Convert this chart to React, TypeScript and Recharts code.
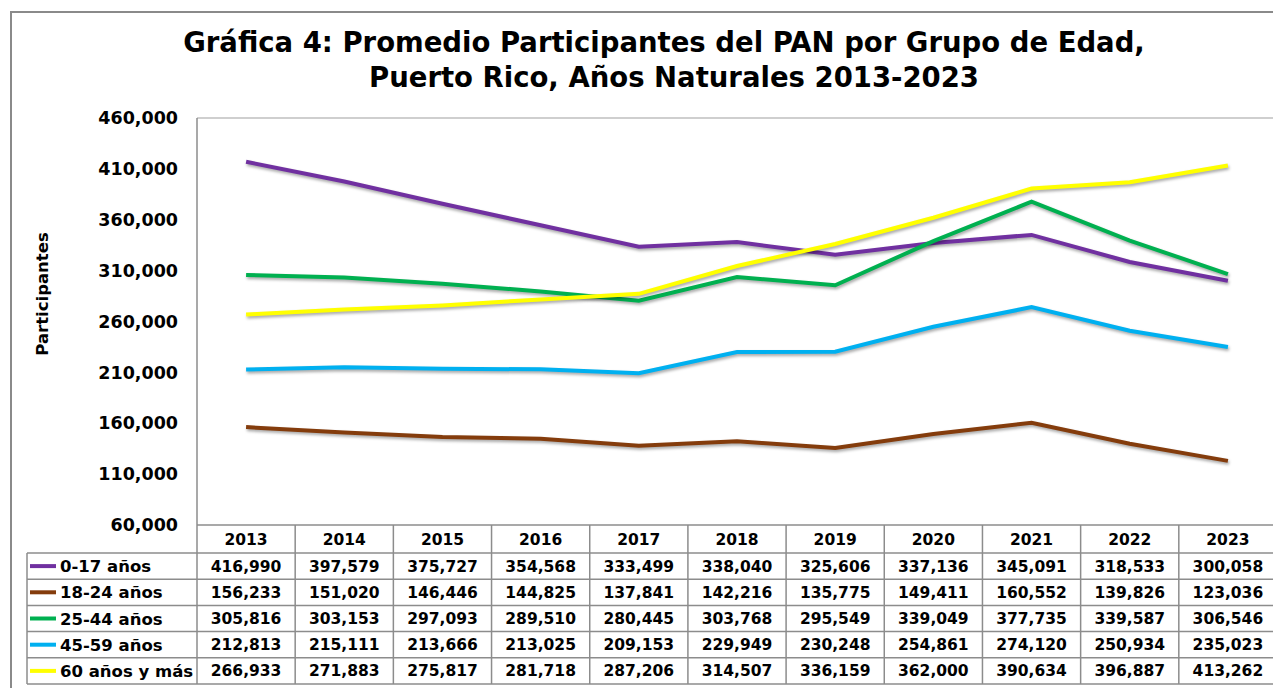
import React from 'react';
import { LineChart, Line, XAxis, YAxis } from 'recharts';

const years = ['2013', '2014', '2015', '2016', '2017', '2018', '2019', '2020', '2021', '2022', '2023'];
const age0_17 = [416990, 397579, 375727, 354568, 333499, 338040, 325606, 337136, 345091, 318533, 300058];
const age18_24 = [156233, 151020, 146446, 144825, 137841, 142216, 135775, 149411, 160552, 139826, 123036];
const age25_44 = [305816, 303153, 297093, 289510, 280445, 303768, 295549, 339049, 377735, 339587, 306546];
const age45_59 = [212813, 215111, 213666, 213025, 209153, 229949, 230248, 254861, 274120, 250934, 235023];
const age60plus = [266933, 271883, 275817, 281718, 287206, 314507, 336159, 362000, 390634, 396887, 413262];
const yTicks = [60000, 110000, 160000, 210000, 260000, 310000, 360000, 410000, 460000];

const seriesDefs = [
  { key: 'a', name: '0-17 años', values: age0_17, color: '#7030A0' },
  { key: 'b', name: '18-24 años', values: age18_24, color: '#843C0C' },
  { key: 'c', name: '25-44 años', values: age25_44, color: '#00B050' },
  { key: 'd', name: '45-59 años', values: age45_59, color: '#00B0F0' },
  { key: 'e', name: '60 años y más', values: age60plus, color: '#FFFF00' },
];

const data = years.map((y, i) => {
  const row: any = { year: y };
  seriesDefs.forEach((s) => (row[s.key] = s.values[i]));
  return row;
});

const FONT = '"DejaVu Sans", sans-serif';
const CHART_W = 1290;
const CHART_H = 688;
const PLOT_L = 197;
const PLOT_T = 118;
const PLOT_B = 525;
const PLOT_R = 1277;
const COL_W = (PLOT_R - PLOT_L) / years.length;
const ROW_H = 26.2;
const HEADER_T = PLOT_B;
const ROWS_T = PLOT_B + 28;
const TABLE_L = 27;
const GRID = '#8c8c8c';

const fmt = (v: number) => v.toLocaleString('en-US');

const Overlay = () => {
  const rowsB = ROWS_T + ROW_H * seriesDefs.length;
  return (
    <svg width={1273} height={688} style={{ position: 'absolute', left: 0, top: 0, pointerEvents: 'none' }}>
      <rect x={11} y={12} width={1400} height={800} fill="none" stroke="#8a8a8a" strokeWidth={2} />
      <text x={664} y={52} textAnchor="middle" fontFamily={FONT} fontWeight="bold" fontSize={27.5} fill="#000">
        Gráfica 4: Promedio Participantes del PAN por Grupo de Edad,
      </text>
      <text x={674} y={87} textAnchor="middle" fontFamily={FONT} fontWeight="bold" fontSize={27.5} fill="#000">
        Puerto Rico, Años Naturales 2013-2023
      </text>
      <text
        x={48}
        y={294}
        transform="rotate(-90 48 294)"
        textAnchor="middle"
        fontFamily={FONT}
        fontWeight="bold"
        fontSize={16.5}
        fill="#000"
      >
        Participantes
      </text>
      {/* plot border */}
      <line x1={PLOT_L} y1={PLOT_T} x2={1273} y2={PLOT_T} stroke="#bfbfbf" strokeWidth={1.5} />
      <line x1={PLOT_L} y1={PLOT_T} x2={PLOT_L} y2={rowsB} stroke={GRID} strokeWidth={1.5} />
      {/* header row */}
      <line x1={PLOT_L} y1={HEADER_T} x2={1273} y2={HEADER_T} stroke={GRID} strokeWidth={1.5} />
      {years.map((y, i) => (
        <g key={y}>
          <line x1={PLOT_L + COL_W * (i + 1)} y1={HEADER_T} x2={PLOT_L + COL_W * (i + 1)} y2={rowsB} stroke={GRID} strokeWidth={1.5} />
          <text
            x={PLOT_L + COL_W * (i + 0.5)}
            y={HEADER_T + 20}
            textAnchor="middle"
            fontFamily={FONT}
            fontWeight="bold"
            fontSize={15.5}
            fill="#000"
          >
            {y}
          </text>
        </g>
      ))}
      {/* data rows */}
      <line x1={TABLE_L} y1={ROWS_T} x2={1273} y2={ROWS_T} stroke={GRID} strokeWidth={1.5} />
      <line x1={TABLE_L} y1={ROWS_T} x2={TABLE_L} y2={rowsB} stroke={GRID} strokeWidth={1.5} />
      {seriesDefs.map((s, r) => {
        const top = ROWS_T + ROW_H * r;
        const cy = top + ROW_H / 2;
        return (
          <g key={s.key}>
            <line x1={TABLE_L} y1={top + ROW_H} x2={1273} y2={top + ROW_H} stroke={GRID} strokeWidth={1.5} />
            <line x1={30} y1={cy} x2={56} y2={cy} stroke={s.color} strokeWidth={4} />
            <text x={60} y={cy + 6} fontFamily={FONT} fontWeight="bold" fontSize={16.5} fill="#000">
              {s.name}
            </text>
            {s.values.map((v, i) => (
              <text
                key={i}
                x={PLOT_L + COL_W * (i + 0.5)}
                y={cy + 5.5}
                textAnchor="middle"
                fontFamily={FONT}
                fontWeight="bold"
                fontSize={15.5}
                fill="#000"
              >
                {fmt(v)}
              </text>
            ))}
          </g>
        );
      })}
    </svg>
  );
};

export default function App() {
  return (
    <div style={{ position: 'fixed', left: 0, top: 0, width: 1273, height: 688, overflow: 'hidden', background: '#fff' }}>
      <LineChart
        width={CHART_W}
        height={CHART_H}
        data={data}
        margin={{ top: PLOT_T, right: CHART_W - PLOT_R, bottom: CHART_H - PLOT_B, left: 10 }}
      >
        <XAxis dataKey="year" hide padding={{ left: COL_W / 2, right: COL_W / 2 }} />
        <YAxis
          width={PLOT_L - 10}
          domain={[60000, 460000]}
          ticks={yTicks}
          interval={0}
          axisLine={false}
          tickLine={false}
          tickSize={0}
          tickMargin={19}
          tickFormatter={fmt}
          tick={{ fontFamily: FONT, fontWeight: 'bold', fontSize: 17.5, fill: '#000' }}
        />
        {seriesDefs.map((s) => (
          <Line
            key={s.key}
            dataKey={s.key}
            name={s.name}
            stroke={s.color}
            strokeWidth={4}
            dot={false}
            activeDot={false}
            isAnimationActive={false}
            style={{ filter: 'drop-shadow(1px 2px 1.5px rgba(0,0,0,0.35))' }}
          />
        ))}
      </LineChart>
      <Overlay />
    </div>
  );
}
